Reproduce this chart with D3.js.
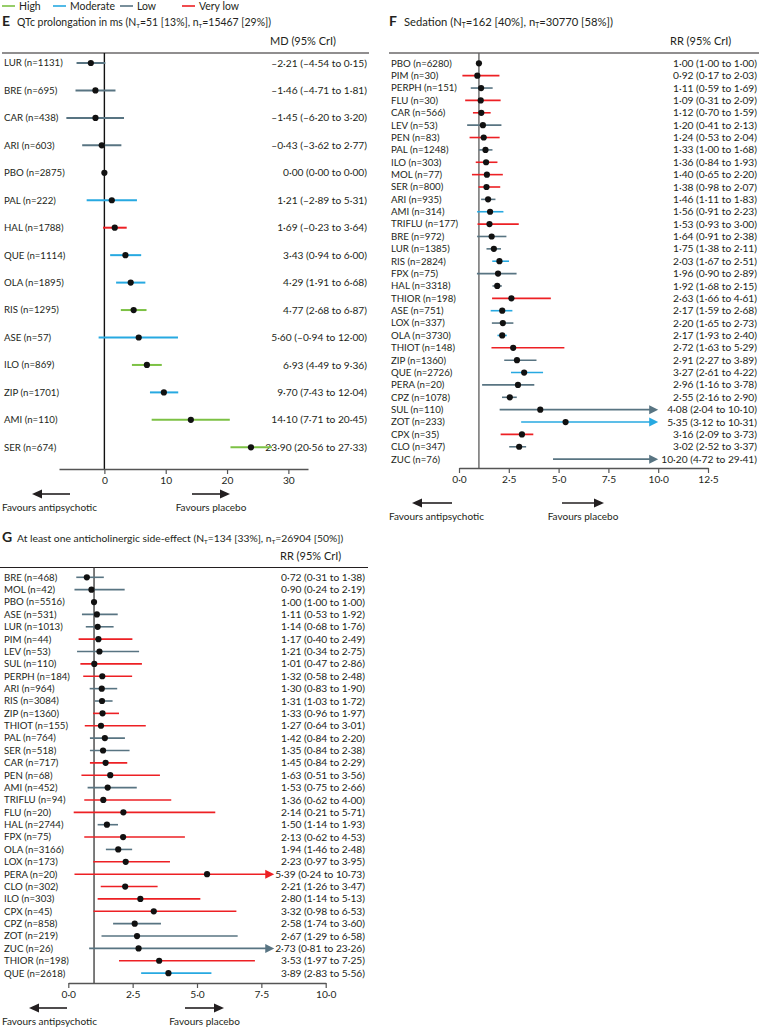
<!DOCTYPE html>
<html>
<head>
<meta charset="utf-8">
<title>Forest plots</title>
<script src="https://cdn.jsdelivr.net/npm/d3@7"></script>
<style>
  body { margin: 0; background: #fff; }
  text { font-family: Lato, "Open Sans", sans-serif; fill: #231f20; }
</style>
</head>
<body>
<script>
// certainty of evidence
const grades = ["High", "Moderate", "Low", "Very low"];
const gradeCodes = ["H", "M", "L", "V"];
const color = d3.scaleOrdinal(gradeCodes, ["#7cc144", "#27a9e1", "#587482", "#ed2024"]);

// E: QTc prolongation
const eTitle = ["QTc prolongation in ms (N", "=51 [13%], n", "=15467 [29%])"];
const eDrug  = ["LUR","BRE","CAR","ARI","PBO","PAL","HAL","QUE","OLA","RIS","ASE","ILO","ZIP","AMI","SER"];
const eN     = [1131,695,438,603,2875,222,1788,1114,1895,1295,57,869,1701,110,674];
const eEst   = [-2.21,-1.46,-1.45,-0.43,0,1.21,1.69,3.43,4.29,4.77,5.60,6.93,9.70,14.10,23.90];
const eLow   = [-4.54,-4.71,-6.20,-3.62,0,-2.89,-0.23,0.94,1.91,2.68,-0.94,4.49,7.43,7.71,20.56];
const eHigh  = [0.15,1.81,3.20,2.77,0,5.31,3.64,6.00,6.68,6.87,12.00,9.36,12.04,20.45,27.33];
const eGrade = ["L","L","L","L","","M","V","M","M","H","M","H","M","H","H"];
const eTicks = [0, 10, 20, 30];

// F: sedation
const fTitle = ["Sedation (N", "=162 [40%], n", "=30770 [58%])"];
const fDrug  = ["PBO","PIM","PERPH","FLU","CAR","LEV","PEN","PAL","ILO","MOL","SER","ARI","AMI","TRIFLU","BRE","LUR","RIS","FPX","HAL","THIOR","ASE","LOX","OLA","THIOT","ZIP","QUE","PERA","CPZ","SUL","ZOT","CPX","CLO","ZUC"];
const fN     = [6280,30,151,30,566,53,83,1248,303,77,800,935,314,177,972,1385,2824,75,3318,198,751,337,3730,148,1360,2726,20,1078,110,233,35,347,76];
const fEst   = [1.00,0.92,1.11,1.09,1.12,1.20,1.24,1.33,1.36,1.40,1.38,1.46,1.56,1.53,1.64,1.75,2.03,1.96,1.92,2.63,2.17,2.20,2.17,2.72,2.91,3.27,2.96,2.55,4.08,5.35,3.16,3.02,10.20];
const fLow   = [1.00,0.17,0.59,0.31,0.70,0.41,0.53,1.00,0.84,0.65,0.98,1.11,0.91,0.93,0.91,1.38,1.67,0.90,1.68,1.66,1.59,1.65,1.93,1.63,2.27,2.61,1.16,2.16,2.04,3.12,2.09,2.52,4.72];
const fHigh  = [1.00,2.03,1.69,2.09,1.59,2.13,2.04,1.68,1.93,2.20,2.07,1.83,2.23,3.00,2.38,2.11,2.51,2.89,2.15,4.61,2.68,2.73,2.40,5.29,3.89,4.22,3.78,2.90,10.10,10.31,3.73,3.37,29.41];
const fGrade = ["","V","L","V","V","L","V","L","V","V","V","L","M","V","L","L","M","L","L","V","M","L","M","V","L","M","L","L","L","M","V","L","L"];
const fTicks = [0, 2.5, 5, 7.5, 10, 12.5];

// G: anticholinergic side-effect
const gTitle = ["At least one anticholinergic side-effect (N", "=134 [33%], n", "=26904 [50%])"];
const gDrug  = ["BRE","MOL","PBO","ASE","LUR","PIM","LEV","SUL","PERPH","ARI","RIS","ZIP","THIOT","PAL","SER","CAR","PEN","AMI","TRIFLU","FLU","HAL","FPX","OLA","LOX","PERA","CLO","ILO","CPX","CPZ","ZOT","ZUC","THIOR","QUE"];
const gN     = [468,42,5516,531,1013,44,53,110,184,964,3084,1360,155,764,518,717,68,452,94,20,2744,75,3166,173,20,302,303,45,858,219,26,198,2618];
const gEst   = [0.72,0.90,1.00,1.11,1.14,1.17,1.21,1.01,1.32,1.30,1.31,1.33,1.27,1.42,1.35,1.45,1.63,1.53,1.36,2.14,1.50,2.13,1.94,2.23,5.39,2.21,2.80,3.32,2.58,2.67,2.73,3.53,3.89];
const gLow   = [0.31,0.24,1.00,0.53,0.68,0.40,0.34,0.47,0.58,0.83,1.03,0.96,0.64,0.84,0.84,0.84,0.51,0.75,0.62,0.21,1.14,0.62,1.46,0.97,0.24,1.26,1.14,0.98,1.74,1.29,0.81,1.97,2.83];
const gHigh  = [1.38,2.19,1.00,1.92,1.76,2.49,2.75,2.86,2.48,1.90,1.72,1.97,3.01,2.20,2.38,2.29,3.56,2.66,4.00,5.71,1.93,4.53,2.48,3.95,10.73,3.47,5.13,6.53,3.60,6.58,23.26,7.25,5.56];
const gGrade = ["L","L","","L","L","V","L","V","V","L","L","V","V","L","L","V","V","L","V","V","L","V","L","V","V","V","V","V","L","L","L","V","M"];
const gTicks = [0, 2.5, 5, 7.5, 10];

const width = 759, height = 1029;
const svg = d3.select("body").append("svg")
  .attr("width", width).attr("height", height);

const num = v => (v < 0 ? "\u2013" : "") + Math.abs(v).toFixed(2).replace(".", "\u00b7");
const tick1 = v => v.toFixed(1).replace(".", "\u00b7");

// pick a font size that gives a string a wanted width
function sizeFor(str, w, weight) {
  const t = svg.append("text").attr("font-size", 10).attr("font-weight", weight || 400).text(str);
  const len = t.node().getComputedTextLength();
  t.remove();
  return 10 * w / len;
}
const labelSize = sizeFor("PERPH (n=151)", 66);
const valSize   = sizeFor("1\u00b700 (1\u00b700 to 1\u00b700)", 84);
const headSize  = sizeFor("MD (95% CrI)", 66);
const favSize   = sizeFor("Favours antipsychotic", 95);
const legSize   = sizeFor("Moderate", 45);

// legend
const leg = svg.append("g").attr("transform", "translate(2,6)");
const legX = [0, 51, 118, 180];
grades.forEach((gr, i) => {
  leg.append("line").attr("x1", legX[i]).attr("x2", legX[i] + 13)
    .attr("stroke", color(gradeCodes[i])).attr("stroke-width", 1.6);
  leg.append("text").attr("x", legX[i] + 17).attr("dy", "0.35em")
    .attr("font-size", legSize).text(gr);
});

const arrowHead = (g, x, y, dir) => g.append("path")
  .attr("d", `M${x},${y - 4.5}L${x + dir * 10},${y}L${x},${y + 4.5}Z`).attr("fill", "#231f20");

function panel(o) {
  const g = svg.append("g");
  const x = d3.scaleLinear().domain(o.domain).range(o.range);
  const rowY = i => o.y0 + i * o.step;

  // title
  g.append("text").attr("x", o.left).attr("y", o.titleY)
    .attr("font-size", 14).attr("font-weight", 700).text(o.letter);
  const tSize = sizeFor(o.title.join("T"), o.titleW);
  const t = g.append("text").attr("x", o.left + 15).attr("y", o.titleY).attr("font-size", tSize);
  o.title.forEach((s, i) => {
    t.append("tspan").attr("dy", i ? -2 : 0).text(s);
    if (i < o.title.length - 1)
      t.append("tspan").attr("font-size", tSize * 0.6).attr("dy", 2).text("T");
  });
  g.append("text").attr("x", o.headX).attr("y", o.topY - 8)
    .attr("font-size", headSize).text(o.head);
  g.append("line").attr("x1", o.lineX[0]).attr("x2", o.lineX[1])
    .attr("y1", o.topY).attr("y2", o.topY).attr("stroke", "#231f20").attr("stroke-width", 1.2);

  // reference line
  g.append("line").attr("x1", x(o.ref)).attr("x2", x(o.ref))
    .attr("y1", o.topY).attr("y2", o.axisY).attr("stroke", o.refColor).attr("stroke-width", 1.4);

  // rows
  o.drug.forEach((d, i) => {
    const y = rowY(i);
    g.append("text").attr("x", o.left + 2).attr("y", y).attr("dy", "0.35em")
      .attr("font-size", labelSize).text(`${d} (n=${o.n[i]})`);
    g.append("text").attr("x", o.valX).attr("y", y).attr("dy", "0.35em")
      .attr("text-anchor", "end").attr("font-size", valSize)
      .text(`${num(o.est[i])} (${num(o.low[i])} to ${num(o.high[i])})`);
    if (o.grade[i]) {
      const c = color(o.grade[i]);
      const capped = o.cap != null && o.high[i] > o.cap;
      const hi = capped ? o.cap : o.high[i];
      g.append("line").attr("x1", x(o.low[i])).attr("x2", x(hi) - (capped ? 6 : 0))
        .attr("y1", y).attr("y2", y).attr("stroke", c).attr("stroke-width", o.lw);
      if (capped)
        g.append("path").attr("d", `M${x(hi) - 9},${y - 4.5}L${x(hi)},${y}L${x(hi) - 9},${y + 4.5}Z`)
          .attr("fill", c);
    }
    if (o.cap == null || o.est[i] <= o.cap)
      g.append("circle").attr("cx", x(o.est[i])).attr("cy", y).attr("r", 3.1).attr("fill", "#111");
  });

  // axis
  const ax = g.append("g").attr("transform", `translate(0,${o.axisY})`)
    .call(d3.axisBottom(x).tickValues(o.ticks).tickFormat(o.tickFmt).tickSize(5).tickSizeOuter(0));
  ax.select(".domain").attr("stroke", "#555").attr("stroke-width", 1.6);
  ax.selectAll(".tick line").attr("stroke", "#555").attr("stroke-width", 1.2);
  ax.selectAll(".tick text").attr("font-size", valSize).attr("font-family", "Lato, sans-serif")
    .attr("fill", "#231f20").attr("y", 8);

  // favours
  const ay = o.favY;
  g.append("line").attr("x1", o.favL[0] + 8).attr("x2", o.favL[1]).attr("y1", ay).attr("y2", ay)
    .attr("stroke", "#231f20").attr("stroke-width", 1.6);
  arrowHead(g, o.favL[0] + 10, ay, -1);
  g.append("line").attr("x1", o.favR[0]).attr("x2", o.favR[1] - 8).attr("y1", ay).attr("y2", ay)
    .attr("stroke", "#231f20").attr("stroke-width", 1.6);
  arrowHead(g, o.favR[1] - 10, ay, 1);
  g.append("text").attr("x", o.left).attr("y", ay + 17).attr("font-size", favSize).text("Favours antipsychotic");
  g.append("text").attr("x", (o.favR[0] + o.favR[1]) / 2).attr("y", ay + 17)
    .attr("text-anchor", "middle").attr("font-size", favSize).text("Favours placebo");
}

panel({
  letter: "E", title: eTitle, titleW: 258, head: "MD (95% CrI)",
  drug: eDrug, n: eN, est: eEst, low: eLow, high: eHigh, grade: eGrade,
  domain: [-7.4, 33.2], range: [59, 308], ticks: eTicks, tickFmt: d3.format("d"),
  ref: 0, refColor: "#111", lw: 2,
  left: 2, titleY: 26, headX: 270, topY: 53, lineX: [2, 369], valX: 367,
  y0: 63, step: 27.45, axisY: 469, favY: 494, favL: [32, 70], favR: [192, 230]
});

panel({
  letter: "F", title: fTitle, titleW: 213, head: "RR (95% CrI)",
  drug: fDrug, n: fN, est: fEst, low: fLow, high: fHigh, grade: fGrade, cap: 10,
  domain: [0, 12.5], range: [459, 708], ticks: fTicks, tickFmt: tick1,
  ref: 1, refColor: "#666", lw: 1.6,
  left: 389, titleY: 26, headX: 670, topY: 53, lineX: [389, 759], valX: 757,
  y0: 63.3, step: 12.37, axisY: 468, favY: 503, favL: [412, 452], favR: [562, 604]
});

panel({
  letter: "G", title: gTitle, titleW: 330, head: "RR (95% CrI)",
  drug: gDrug, n: gN, est: gEst, low: gLow, high: gHigh, grade: gGrade, cap: 8,
  domain: [0, 10], range: [68.3, 325.7], ticks: gTicks, tickFmt: tick1,
  ref: 1, refColor: "#444", lw: 1.6,
  left: 2, titleY: 542, headX: 280, topY: 567.5, lineX: [0, 368], valX: 365,
  y0: 577.3, step: 12.37, axisY: 983, favY: 1008, favL: [29, 67], favR: [185, 224]
});
</script>
</body>
</html>
